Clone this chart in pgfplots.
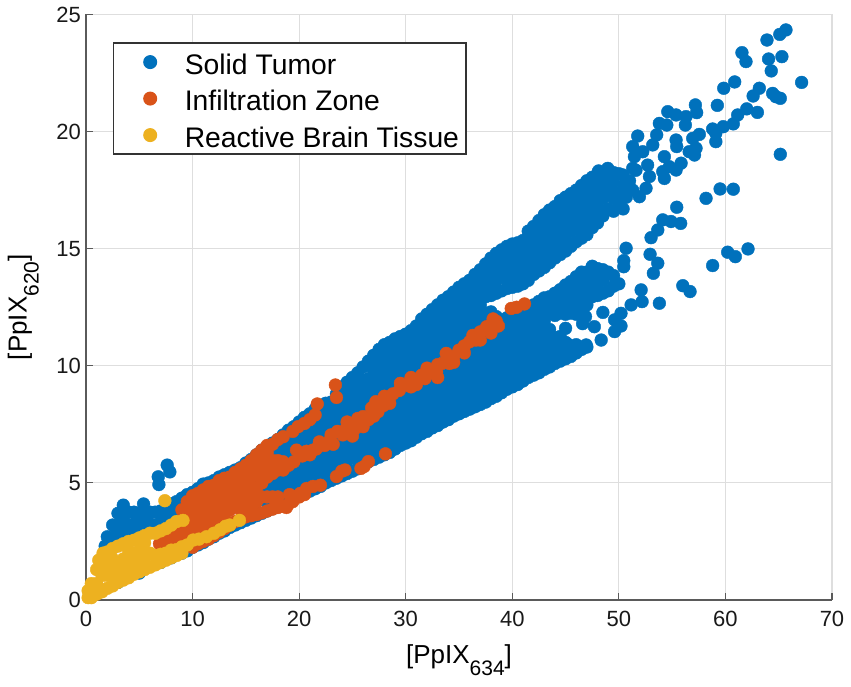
\documentclass[border=0pt]{standalone}
\usepackage{fontspec}
\setmainfont{Liberation Sans}
\usepackage{pgfplots}
\pgfplotsset{compat=1.18}

\definecolor{mblue}{HTML}{0071BC}
\definecolor{morange}{HTML}{D95319}
\definecolor{myellow}{HTML}{EDB120}
\definecolor{axgray}{HTML}{5A5A5A}
\definecolor{grgray}{HTML}{DEDEDE}

\newcommand{\fs}[1]{\fontsize{#1}{#1}\selectfont}

\begin{document}
\begin{tikzpicture}
\useasboundingbox (-86pt,-87pt) rectangle (765pt,600pt);
\begin{axis}[
    at={(0pt,0pt)}, anchor=south west,
    scale only axis,
    width=746pt, height=585.5pt,
    xmin=0, xmax=70, ymin=0, ymax=25,
    xtick={0,10,...,70},
    ytick={0,5,...,25},
    axis x line=bottom, axis y line=left,
    axis line style={-, color=axgray, line width=1.6pt},
    major tick length=7pt,
    tick align=inside,
    tick style={color=axgray, line width=1.2pt},
    grid=major,
    major grid style={color=grgray, line width=1.2pt},
    clip=false,
    tick label style={font=\fs{22}, color=black!90},
    /pgf/number format/assume math mode=true,
    xticklabel style={inner sep=0pt, yshift=-11pt},
    yticklabel style={inner sep=0pt, xshift=-5pt},
    xlabel={[PpIX\raisebox{-12pt}{\fs{21}634}]},
    ylabel={[PpIX\raisebox{-12pt}{\fs{21}620}]},
    xlabel style={font=\fs{26}, at={(axis description cs:0.5,0)}, anchor=north, inner sep=0pt, yshift=-44pt},
    ylabel style={font=\fs{26}, at={(axis description cs:0,0.5)}, anchor=south, inner sep=0pt, yshift=47pt},
    legend cell align=left,
    legend style={
        at={(27pt,557.5pt)}, anchor=north west,
        draw=black!80, line width=1.2pt,
        font=\fs{28.3},
        inner xsep=7pt, inner ysep=5pt,
        row sep=8.5pt,
        nodes={inner sep=0pt, text height=26pt, text depth=2pt},
        /tikz/every even column/.append style={column sep=0pt},
    },
    legend image code/.code={\draw[#1] plot[mark=*] coordinates {(0pt,0pt)};\path (-29pt,-10pt) (34pt,6pt);},
]

\addplot[only marks, mark=*, mark size=6.4pt, color=mblue, mark options={fill=mblue, draw=mblue}] coordinates {
(1.8,2.3)(2,2.7)(2.3,2.5)(2.5,3.2)(2.6,2.7)(3,3.7)(3,3.2)(3,2.65)(3.5,4.05)(3.5,3.5)(3.5,2.95)
(4,3.75)(4,3.2)(4,2.7)(4.5,3.75)(4.5,3.25)(4.5,2.8)(5,3.7)(5,3.2)(5.4,4.1)(5.5,3.6)(5.5,3.1)
(6,3.75)(6,3.25)(6.5,3.75)(6.5,3.2)(7,3.8)(7,3.3)(7.5,3.9)(7.5,3.4)(8,4.1)(8,3.7)(8.5,4.2)(8.5,3.8)
(7.62,5.76)(7.87,5.47)(6.78,5.26)(6.84,4.93)
(9,4.35)(9.5,4.5)(10,4.6)(10.5,4.75)(11,4.95)(11.5,5.0)(12,5.1)(12.5,5.25)(13,5.35)(13.5,5.45)
(14,5.55)(14.5,5.65)(15,5.85)(15.5,6.0)
(3,0.75)(5,1.15)(7,1.6)(8,1.8)(9,2.0)(9.5,2.1)(10,2.25)(10.5,2.35)(11,2.45)(11.5,2.6)(12,2.7)
(12.5,2.85)(13,2.95)(13.5,3.1)(14,3.2)(14.5,3.3)(15,3.4)(15.5,3.5)
(16,3.6)(16,4.2)(16,4.9)(16,5.6)(16,6.2)
(16.5,3.7)(16.5,4.55)(16.5,5.25)(16.5,5.95)(16.5,6.4)
(17,3.8)(17,4.2)(17,4.9)(17,5.6)(17,6.3)(17,6.55)
(17.5,3.9)(17.5,4.55)(17.5,5.25)(17.5,5.95)(17.5,6.7)
(18,4)(18,4.2)(18,4.9)(18,5.6)(18,6.3)(18,6.85)
(18.5,4.1)(18.5,4.55)(18.5,5.25)(18.5,5.95)(18.5,6.65)(18.5,7.05)
(19,4.25)(19,4.9)(19,5.6)(19,6.3)(19,7)(19,7.25)
(19.5,4.4)(19.5,4.9)(19.5,5.25)(19.5,5.95)(19.5,6.65)(19.5,7.4)
(20,4.5)(20,4.9)(20,5.6)(20,6.3)(20,7)(20,7.6)
(20.5,4.6)(20.5,5.25)(20.5,5.95)(20.5,6.65)(20.5,7.35)(20.5,7.8)
(21,4.65)(21,4.9)(21,5.6)(21,6.3)(21,7)(21,7.7)(21,7.95)
(21.5,4.75)(21.5,5.25)(21.5,5.95)(21.5,6.65)(21.5,7.35)(21.5,8.15)
(22,4.85)(22,5.6)(22,6.3)(22,7)(22,7.7)(22,8.3)
(22.5,5)(22.5,5.25)(22.5,5.95)(22.5,6.65)(22.5,7.35)(22.5,8.05)(22.5,8.4)
(23,5.1)(23,5.6)(23,6.3)(23,7)(23,7.7)(23,8.45)
(23.5,5.2)(23.5,5.95)(23.5,6.65)(23.5,7.35)(23.5,8.05)(23.5,8.8)
(24,5.3)(24,5.6)(24,6.3)(24,7)(24,7.7)(24,8.4)(24,9.1)
(24.5,5.4)(24.5,5.95)(24.5,6.65)(24.5,7.35)(24.5,8.05)(24.5,8.75)(24.5,9.3)
(25,5.5)(25,6.3)(25,7)(25,7.7)(25,8.4)(25,9.1)(25,9.5)
(25.5,5.6)(25.5,5.95)(25.5,6.65)(25.5,7.35)(25.5,8.05)(25.5,8.75)(25.5,9.45)(25.5,9.7)
(26,5.75)(26,6.3)(26,7)(26,7.7)(26,8.4)(26,9.1)(26,9.95)
(26.5,5.9)(26.5,6.65)(26.5,7.35)(26.5,8.05)(26.5,8.75)(26.5,9.45)(26.5,10.2)
(27,6)(27,6.3)(27,7)(27,7.7)(27,8.4)(27,9.1)(27,9.8)(27,10.45)
(27.5,6.1)(27.5,6.65)(27.5,7.35)(27.5,8.05)(27.5,8.75)(27.5,9.45)(27.5,10.15)(27.5,10.7)
(28,6.2)(28,7)(28,7.7)(28,8.4)(28,9.1)(28,9.8)(28,10.5)(28,10.9)
(28.5,6.3)(28.5,6.65)(28.5,7.35)(28.5,8.05)(28.5,8.75)(28.5,9.45)(28.5,10.15)(28.5,10.85)(28.5,11)
(29,6.45)(29,7)(29,7.7)(29,8.4)(29,9.1)(29,9.8)(29,10.5)(29,11.15)
(29.5,6.6)(29.5,7.35)(29.5,8.05)(29.5,8.75)(29.5,9.45)(29.5,10.15)(29.5,10.85)(29.5,11.25)
(30,6.7)(30,7)(30,7.7)(30,8.4)(30,9.1)(30,9.8)(30,10.5)(30,11.2)(30,11.35)
(30.5,6.8)(30.5,7.35)(30.5,8.05)(30.5,8.75)(30.5,9.45)(30.5,10.15)(30.5,10.85)(30.5,11.5)
(31,6.95)(31,7.7)(31,8.4)(31,9.1)(31,9.8)(31,10.5)(31,11.2)(31,11.7)
(31.5,7.1)(31.5,7.35)(31.5,8.05)(31.5,8.75)(31.5,9.45)(31.5,10.15)(31.5,10.85)(31.5,11.55)(31.5,12)
(32,7.2)(32,7.7)(32,8.4)(32,9.1)(32,9.8)(32,10.5)(32,11.2)(32,11.9)(32,12.2)
(32.5,7.35)(32.5,8.05)(32.5,8.75)(32.5,9.45)(32.5,10.15)(32.5,10.85)(32.5,11.55)(32.5,12.25)(32.5,12.4)
(33,7.45)(33,7.7)(33,8.4)(33,9.1)(33,9.8)(33,10.5)(33,11.2)(33,11.9)(33,12.6)
(33.5,7.6)(33.5,8.05)(33.5,8.75)(33.5,9.45)(33.5,10.15)(33.5,10.85)(33.5,11.55)(33.5,12.25)(33.5,12.8)
(34,7.7)(34,8.4)(34,9.1)(34,9.8)(34,10.5)(34,11.2)(34,11.9)(34,12.6)(34,12.95)
(34.5,7.85)(34.5,8.05)(34.5,8.75)(34.5,9.45)(34.5,10.15)(34.5,10.85)(34.5,11.55)(34.5,12.25)(34.5,12.95)(34.5,13.15)
(35,7.95)(35,8.4)(35,9.1)(35,9.8)(35,10.5)(35,11.2)(35,11.9)(35,12.6)(35,13.35)
(35.5,8.05)(35.5,8.75)(35.5,9.45)(35.5,10.15)(35.5,10.85)(35.5,11.55)(35.5,12.25)(35.5,12.95)(35.5,13.5)
(36,8.15)(36,8.4)(36,9.1)(36,9.8)(36,10.5)(36,11.2)(36,11.9)(36,12.6)(36,13.3)(36,13.65)
(36.5,8.25)(36.5,8.75)(36.5,9.45)(36.5,10.15)(36.5,10.85)(36.5,11.55)(36.5,12.25)(36.5,12.95)(36.5,13.65)(36.5,13.9)
(37,8.35)(37,9.1)(37,9.8)(37,10.5)(37,11.2)(37,11.9)(37,12.6)(37,13.3)(37,14.1)
(37.5,8.45)(37.5,8.75)(37.5,9.45)(37.5,10.15)(37.5,10.85)(37.5,11.55)(37.5,12.25)(37.5,12.95)(37.5,13.65)(37.5,14.35)
(38,8.6)(38,9.1)(38,9.8)(38,10.5)(38,11.2)(38,11.9)(38,12.3)(38,13)(38,13.3)(38,14)(38,14.6)
(38.5,8.7)(38.5,9.45)(38.5,10.15)(38.5,10.85)(38.5,11.55)(38.5,12.1)(38.5,13.1)(38.5,13.65)(38.5,14.35)(38.5,14.8)
(39,8.85)(39,9.1)(39,9.8)(39,10.5)(39,11.2)(39,11.9)(39,13.2)(39,14)(39,14.7)(39,14.95)
(39.5,9)(39.5,9.45)(39.5,10.15)(39.5,10.85)(39.5,11.55)(39.5,12.05)(39.5,13.3)(39.5,13.65)(39.5,14.35)(39.5,15.05)(39.5,15.1)
(40,9.1)(40,9.8)(40,10.5)(40,11.2)(40,11.9)(40,13.35)(40,14)(40,14.7)(40,15.2)
(40.5,9.2)(40.5,9.45)(40.5,10.15)(40.5,10.85)(40.5,11.55)(40.5,12.1)(40.5,13.4)(40.5,13.65)(40.5,14.35)(40.5,15.05)(40.5,15.25)
(41,9.35)(41,9.8)(41,10.5)(41,11.2)(41,11.9)(41,12.2)(41,13.5)(41,14)(41,14.7)(41,15.35)
(41.5,9.5)(41.5,10.15)(41.5,10.85)(41.5,11.55)(41.5,12.3)(41.5,13.65)(41.5,14.35)(41.5,15.05)(41.5,15.75)
(42,9.6)(42,9.8)(42,10.5)(42,11.2)(42,11.9)(42,12.6)(42,13.9)(42,14)(42,14.7)(42,15.4)(42,15.95)
(42.5,9.7)(42.5,10.15)(42.5,10.85)(42.5,11.55)(42.5,12.25)(42.5,12.75)(42.5,14.05)(42.5,14.35)(42.5,15.05)(42.5,15.75)(42.5,16.2)
(43,9.85)(43,10.5)(43,11.2)(43,11.9)(43,12.6)(43,12.9)(43,14.2)(43,14.7)(43,15.4)(43,16.1)(43,16.45)
(43.5,9.95)(43.5,10.15)(43.5,10.85)(43.5,11.55)(43.5,12.25)(43.5,12.95)(43.5,14.4)(43.5,15.05)(43.5,15.75)(43.5,16.45)(43.5,16.65)
(44,10.1)(44,10.5)(44,11.2)(44,12.15)(44,12.6)(44,13.1)(44,14.6)(44,14.7)(44,15.4)(44,16.1)(44,16.8)
(44.5,10.2)(44.5,10.85)(44.5,11.25)(44.5,12.25)(44.5,12.95)(44.5,13.25)(44.5,14.75)(44.5,15.05)(44.5,15.75)(44.5,16.45)(44.5,17.05)
(45,10.3)(45,10.5)(45,11)(45,11.6)(45,12.2)(45,12.6)(45,13.3)(45,13.45)(45,14.9)(45,15.4)(45,16.1)(45,16.8)(45,17.2)
(45.5,10.4)(45.5,10.85)(45.5,12.25)(45.5,12.95)(45.5,13.6)(45.5,15.1)(45.5,15.75)(45.5,16.45)(45.5,17.15)(45.5,17.35)
(46,10.55)(46,10.9)(46,12.2)(46,12.6)(46,13.3)(46,13.8)(46,15.3)(46,16.1)(46,16.8)(46,17.5)
(46.5,10.7)(46.5,12.5)(46.5,12.95)(46.5,13.65)(46.5,14)(46.5,15.45)(46.5,15.75)(46.5,16.45)(46.5,17.15)(46.5,17.7)
(47,10.8)(47,12.6)(47,13.3)(47,14)(47,15.6)(47,16.1)(47,16.8)(47,17.5)(47,17.9)
(47.5,12.95)(47.5,13.65)(47.5,14.25)(47.5,15.9)(47.5,16.45)(47.5,17.15)(47.5,17.85)(47.5,18.05)
(48,13)(48,13.3)(48,14)(48,14.15)(48,16.1)(48,16.8)(48,17.5)(48,18.2)
(48.5,13.1)(48.5,13.65)(48.5,14.1)(48.5,16.4)(48.5,17.15)(48.5,17.85)(48.5,18.2)
(49,13.2)(49,14)(49,16.7)(49,17.5)(49,18.2)
(49.5,13.4)(49.5,13.85)(49.5,16.6)(49.5,17.15)(49.5,17.85)(49.5,18.25)
(50,13.5)(50,16.9)(50,17.4)(50,18.2)(50.4,16.7)(50.7,17.2)(50.5,17.7)(51,17.9)(51.3,17.5)(51.6,18.35)
(65.68,24.34)(65.1,24.15)(63.9,23.91)(61.55,23.37)(61.93,22.99)(65.3,23.2)(64.05,23.1)(64.3,22.59)
(67.15,22.1)(60.87,22.12)(59.84,21.85)(63.18,21.85)(62.6,21.52)(64.43,21.63)(64.74,21.49)(65.15,21.42)
(57.18,21.14)(57.3,20.81)(59.24,21.12)(54.59,20.85)(55.37,20.71)(56.3,20.64)(56.24,20.28)(53.8,20.35)
(54.5,20.28)(63.0,20.82)(62.0,20.97)(61.15,20.71)(60.74,20.33)(59.8,20.21)(58.8,20.11)(59.1,19.93)
(59.1,19.57)(57.55,19.88)(56.93,19.71)(53.55,19.86)(53.18,19.43)(55.37,19.64)(55.43,19.36)(51.77,19.81)
(57.24,19.29)(56.6,19.14)(57.1,19.0)(65.15,19.03)(54.27,18.93)(55.84,18.65)(54.74,18.5)(55.37,18.36)
(54.12,18.29)(54.27,18.0)(51.3,19.36)(52.24,19.14)(51.46,18.93)(52.7,18.57)(52.87,18.08)(52.55,17.58)
(51.93,17.22)(51.3,18.43)(48.96,18.43)(48.1,18.32)(50.37,18.15)(49.43,18.08)
(59.5,17.55)(60.74,17.54)(58.18,17.15)(55.43,16.77)(54.12,16.23)(54.9,16.16)(55.8,16.08)(53.65,15.8)
(53.02,15.47)(50.68,15.02)(52.93,14.76)(53.65,14.38)(53.24,13.95)(50.46,14.49)(50.46,14.23)
(62.12,14.99)(60.21,14.85)(60.93,14.66)(58.8,14.28)(56,13.42)(56.68,13.17)(53.8,12.67)(52.09,13.24)
(52.18,12.74)(51.15,12.6)(50.2,12.24)(48.5,12.28)(49.6,11.96)(50.2,11.7)(49.6,11.46)(46.87,12.1)
(46.6,11.8)(47.7,11.67)(48.34,11.1)(46.93,10.89)(45.1,10.96)(44.43,10.39)
};
\addlegendentry{Solid Tumor}

\addplot[only marks, mark=*, mark size=6.4pt, color=morange, mark options={fill=morange, draw=morange}] coordinates {
(6.9,2.4)(7.5,2.45)(7.5,2.7)(8,2.5)(8,2.8)(8.5,2.55)(8.5,3.15)(9,2.45)(9,2.8)(9,3.4)(9,3.85)
(9.5,2.45)(9.5,3.15)(9.5,3.85)(9.5,4.2)
(10,2.25)(10,2.8)(10,3.5)(10,4.2)(10,4.45)
(10.5,2.4)(10.5,3.15)(10.5,3.85)(10.5,4.55)
(11,2.5)(11,2.8)(11,3.5)(11,4.2)(11,4.7)
(11.5,2.6)(11.5,3.15)(11.5,3.85)(11.5,4.55)(11.5,4.85)
(12,2.75)(12,3.5)(12,4.2)(12,4.9)
(12.5,2.9)(12.5,3.15)(12.5,3.85)(12.5,4.55)(12.5,5.1)
(13,3.05)(13,3.5)(13,4.2)(13,4.9)(13,5.2)
(13.5,3.2)(13.5,3.85)(13.5,4.55)(13.5,5.25)
(14,3.35)(14,4.2)(14,4.9)(14,5.45)
(14.5,3.45)(14.5,3.85)(14.5,4.55)(14.5,5.25)(14.5,5.6)
(15,3.55)(15,4.2)(15,4.9)(15,5.6)(15,5.75)
(15.5,3.6)(15.5,4.0)(15.5,4.55)(15.5,5.25)(15.5,5.95)
(16,3.65)(16,4.2)(16,4.8)(16,5.6)(16,6.2)
(16.5,3.72)(16.5,4.4)(16.5,5)(16.5,5.25)(16.5,5.95)(16.5,6.4)
(17,3.8)(17,4.4)(17,5.25)(17,5.6)(17,6.3)(17,6.6)
(17.5,3.88)(17.5,4.4)(17.5,5.4)(17.5,5.95)(17.5,6.65)
(18,3.95)(18,4.4)(18,5.55)(18,5.95)(18,6.85)
(18.4,4)(18.5,5.55)(18.5,5.9)(18.5,6.97)(18.8,3.95)(19,4.1)(19.4,4.2)(19.1,4.5)(19.6,4.4)(20,4.4)(20.1,4.55)(20.5,4.5)(20.7,4.76)(21.3,4.85)(22,4.9)
(23.5,5.27)(24,5.5)(24.3,5.55)(25.8,5.62)(26.1,5.7)(26.5,5.91)(28.1,6.24)
(19.4,7.2)(19.9,7.4)(20.5,7.54)(21,7.7)(21.5,7.9)(21.7,8.37)(23.4,9.18)(23.5,8.65)
(19,5.75)(19.5,5.9)(19.75,6.4)(20.3,6.15)(20.7,6.35)(21,6.2)(21.3,6.4)(21.6,6.45)(21.9,6.75)(22.4,6.6)
(22.9,6.83)(23,7.05)(23.2,6.65)(23.6,7.2)(24.1,7.05)(24.4,7.3)(24.5,7.6)(24.75,7.4)(25,7.0)(25.2,7.3)(25.7,7.47)(25.5,7.75)(26,7.83)(26,7.4)
(26.5,7.7)(26.8,8.2)(27,7.85)(27.4,8.04)(27.2,8.47)(27.9,8.3)(28,8.7)(28.5,8.4)(28.8,8.8)(29.4,8.95)(29.5,9.25)(30.1,9.18)(30.5,9.1)(30.5,9.5)
(31,9.4)(31,9.2)(31.5,9.6)(31.8,9.45)(32,9.9)(32.4,9.7)(32.9,9.75)(33,10.05)(33,9.5)(33.4,10.1)(33.8,10.53)(34.1,10.1)(34.5,10.4)(34.5,10.15)(35,10.67)
(35.5,10.85)(35.5,10.55)(36,11.03)(36.3,11.3)(36.6,11.1)(37,11.45)(37,11.1)(37.6,11.67)(38,11.75)(38,11.4)(38.2,12.0)(38.5,11.9)(38.7,11.7)(39.9,12.45)(40.4,12.5)(41.15,12.64)
};
\addlegendentry{Infiltration Zone}

\addplot[only marks, mark=*, mark size=6.4pt, color=myellow, mark options={fill=myellow, draw=myellow}] coordinates {
(0.2,0.1)(0.2,0.4)(0.5,0.1)(0.5,0.35)(0.5,0.7)(1,0.25)(1,0.7)(1,1.3)(1.2,1.7)
(1.5,0.35)(1.5,1.05)(1.5,1.75)(1.6,2.0)(2,0.5)(2,1.05)(2,1.4)(2,2.05)
(2.5,0.6)(2.5,1.05)(2.5,1.75)(2.5,2.2)(3,0.75)(3,1.4)(3,2.3)
(3.5,0.85)(3.5,1.05)(3.5,1.75)(3.5,2.4)(4,0.95)(4,1.4)(4,2.1)(4,2.5)
(4.5,1.1)(4.5,1.75)(4.5,2.55)(5,1.2)(5,1.4)(5,2.1)(5,2.65)
(5.5,1.3)(5.5,1.75)(5.5,2.45)(5.5,2.75)(6,1.4)(6,2.0)(6,2.85)
(6.5,1.5)(6.5,1.9)(6.5,2.85)(7,1.6)(7,1.95)(7,2.95)(7.5,1.7)(7.5,2.0)(7.5,3.05)
(8,1.8)(8,2.13)(8,3.2)(8.5,1.9)(8.5,2.15)(8.5,3.35)(9,2)(9,2.27)(9.1,3.4)(7.4,4.24)
(9.5,2.35)(10.06,2.56)(10.6,2.6)(11.3,2.7)(12,2.85)(12.6,3.0)(13.1,3.15)(13.5,3.2)(14.4,3.4)
};
\addlegendentry{Reactive Brain Tissue}
\end{axis}
\end{tikzpicture}
\end{document}
